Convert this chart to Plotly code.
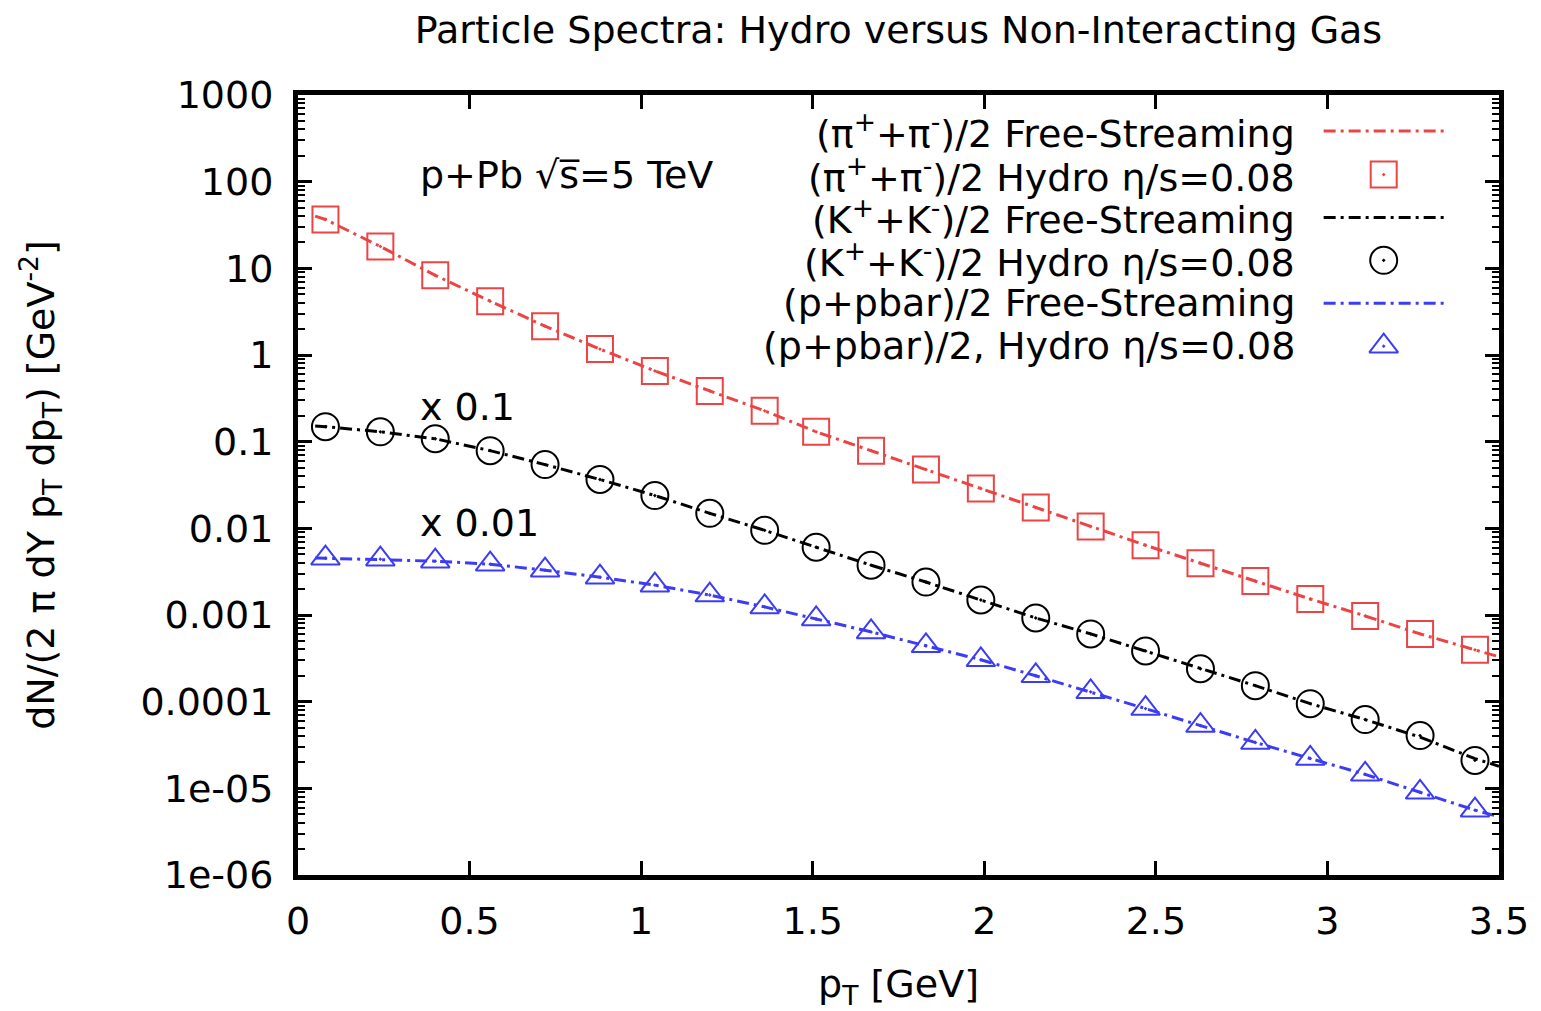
import plotly.graph_objects as go

# ---------------- data ----------------
pt = [0.08, 0.24, 0.40, 0.56, 0.72, 0.88, 1.04, 1.20, 1.36, 1.51, 1.67,
      1.83, 1.99, 2.15, 2.31, 2.47, 2.63, 2.79, 2.95, 3.11, 3.27, 3.43]

pion_hydro = [36.6, 17.9, 8.3, 4.18, 2.15, 1.17, 0.655, 0.385, 0.227, 0.130, 0.0788,
              0.0477, 0.0288, 0.0174, 0.0105, 0.00638, 0.00396, 0.00246, 0.00153,
              0.000975, 0.000605, 0.000396]
kaon_hydro = [0.149, 0.130, 0.108, 0.0788, 0.0544, 0.0366, 0.0239, 0.0149, 0.00948,
              0.00605, 0.00376, 0.00240, 0.00149, 0.000924, 0.000605, 0.000385,
              0.000240, 0.000153, 9.48e-5, 6.21e-5, 4.06e-5, 2.10e-5]
proton_hydro = [0.00452, 0.00441, 0.00418, 0.00386, 0.00329, 0.00273, 0.00221, 0.00170,
                0.00124, 0.000900, 0.000638, 0.000441, 0.000304, 0.000199, 0.000130,
                8.32e-5, 5.30e-5, 3.38e-5, 2.21e-5, 1.45e-5, 9.0e-6, 5.6e-6]

pt_fs = [0.05, 0.08, 0.24, 0.40, 0.56, 0.72, 0.88, 1.04, 1.20, 1.36, 1.51, 1.67,
         1.83, 1.99, 2.15, 2.31, 2.47, 2.63, 2.79, 2.95, 3.11, 3.27, 3.43, 3.50]
pion_fs = [40.0, 36.6, 17.9, 8.3, 4.18, 2.15, 1.17, 0.655, 0.385, 0.227, 0.130, 0.0788,
           0.0477, 0.0288, 0.0174, 0.0105, 0.00638, 0.00396, 0.00246, 0.00153,
           0.000975, 0.000605, 0.000396, 0.00033]
kaon_fs = [0.152, 0.149, 0.130, 0.108, 0.0788, 0.0544, 0.0366, 0.0239, 0.0149, 0.00948,
           0.00605, 0.00376, 0.00240, 0.00149, 0.000924, 0.000605, 0.000385,
           0.000240, 0.000153, 9.48e-5, 6.21e-5, 3.9e-5, 2.2e-5, 1.8e-5]
proton_fs = [0.00455, 0.00452, 0.00441, 0.00418, 0.00386, 0.00329, 0.00273, 0.00221, 0.00170,
             0.00124, 0.000900, 0.000638, 0.000441, 0.000304, 0.000199, 0.000130,
             8.32e-5, 5.30e-5, 3.38e-5, 2.21e-5, 1.45e-5, 9.0e-6, 5.6e-6, 4.7e-6]

y_tickvals = [1000, 100, 10, 1, 0.1, 0.01, 0.001, 0.0001, 1e-5, 1e-6]
y_ticktext = ["1000", "100", "10", "1", "0.1", "0.01", "0.001", "0.0001", "1e-05", "1e-06"]
x_tickvals = [0, 0.5, 1, 1.5, 2, 2.5, 3, 3.5]
x_ticktext = ["0", "0.5", "1", "1.5", "2", "2.5", "3", "3.5"]

legend_labels = [
    "(π<sup>+</sup>+π<sup>-</sup>)/2 Free-Streaming",
    "(π<sup>+</sup>+π<sup>-</sup>)/2 Hydro η/s=0.08",
    "(K<sup>+</sup>+K<sup>-</sup>)/2 Free-Streaming",
    "(K<sup>+</sup>+K<sup>-</sup>)/2 Hydro η/s=0.08",
    "(p+pbar)/2 Free-Streaming",
    "(p+pbar)/2, Hydro η/s=0.08",
]

RED = "#ec4444"
BLACK = "#000000"
BLUE = "#3c3cf5"
FONT = "DejaVu Sans, Liberation Sans, sans-serif"
FS = 38
DASH = "12px,5px,3px,5px"

fig = go.Figure()

series = [
    (pion_fs, pion_hydro, RED, "square-open-dot", 26),
    (kaon_fs, kaon_hydro, BLACK, "circle-open-dot", 27),
    (proton_fs, proton_hydro, BLUE, "triangle-up-open-dot", 25),
]
for fs_vals, hy_vals, col, sym, msz in series:
    fig.add_trace(go.Scatter(x=pt_fs, y=fs_vals, mode="lines",
                             line=dict(color=col, width=3, dash=DASH),
                             showlegend=False))
    fig.add_trace(go.Scatter(x=pt, y=hy_vals, mode="markers",
                             marker=dict(symbol=sym, size=msz, color=col,
                                         line=dict(color=col, width=2)),
                             showlegend=False))

# manual key (text left of sample, gnuplot style) on an overlay axis in [0,1]
row_y = [0.954, 0.898, 0.843, 0.788, 0.733, 0.678]
key_items = [("line", RED, None, 0), ("marker", RED, "square-open-dot", 26),
             ("line", BLACK, None, 0), ("marker", BLACK, "circle-open-dot", 27),
             ("line", BLUE, None, 0), ("marker", BLUE, "triangle-up-open-dot", 25)]
for (kind, col, sym, msz), yy in zip(key_items, row_y):
    if kind == "line":
        fig.add_trace(go.Scatter(x=[0.854, 0.954], y=[yy, yy], mode="lines",
                                 line=dict(color=col, width=3, dash=DASH),
                                 xaxis="x2", yaxis="y2", showlegend=False))
    else:
        fig.add_trace(go.Scatter(x=[0.904], y=[yy], mode="markers",
                                 marker=dict(symbol=sym, size=msz, color=col,
                                             line=dict(color=col, width=2)),
                                 xaxis="x2", yaxis="y2", showlegend=False))

annotations = []
for lab, yy in zip(legend_labels, row_y):
    annotations.append(dict(text=lab, x=0.832, y=yy, xref="paper", yref="paper",
                            xanchor="right", yanchor="middle", showarrow=False,
                            font=dict(family=FONT, size=FS, color="black")))
annotations += [
    dict(text="p+Pb √s\u0305=5 TeV", x=0.0998, y=0.898, xref="paper", yref="paper",
         xanchor="left", yanchor="middle", showarrow=False,
         font=dict(family=FONT, size=FS, color="black")),
    dict(text="x 0.1", x=0.0998, y=0.600, xref="paper", yref="paper",
         xanchor="left", yanchor="middle", showarrow=False,
         font=dict(family=FONT, size=FS, color="black")),
    dict(text="x 0.01", x=0.0998, y=0.451, xref="paper", yref="paper",
         xanchor="left", yanchor="middle", showarrow=False,
         font=dict(family=FONT, size=FS, color="black")),
]

# the page body adds an 8px offset: size the figure so the plot box lands where intended
W, H = 1533, 1003
fig.update_layout(
    width=W, height=H,
    margin=dict(l=290, r=41, t=87, b=133),
    paper_bgcolor="white", plot_bgcolor="white",
    font=dict(family=FONT, size=FS, color="black"),
    title=dict(text="Particle Spectra: Hydro versus Non-Interacting Gas",
               xref="paper", x=0.5, xanchor="center", y=1 - 22 / H, yanchor="middle",
               font=dict(family=FONT, size=FS, color="black")),
    xaxis=dict(range=[0, 3.5], tickvals=x_tickvals, ticktext=x_ticktext,
               ticks="inside", ticklen=14, tickwidth=3, tickcolor="black",
               showline=True, linewidth=5, linecolor="black", mirror="ticks",
               showgrid=False, zeroline=False, ticklabelstandoff=8,
               title=dict(text="p<sub>T</sub> [GeV]", standoff=30,
                          font=dict(family=FONT, size=FS))),
    yaxis=dict(type="log", range=[-6, 3], tickvals=y_tickvals, ticktext=y_ticktext,
               ticks="inside", ticklen=14, tickwidth=3, tickcolor="black",
               showline=True, linewidth=5, linecolor="black", mirror="ticks",
               showgrid=False, zeroline=False, ticklabelstandoff=12,
               minor=dict(ticks="inside", ticklen=7, tickwidth=2, tickcolor="black",
                          dtick="D1", showgrid=False),
               title=dict(text="dN/(2 π dY p<sub>T</sub> dp<sub>T</sub>) [GeV<sup>-2</sup>]",
                          standoff=76, font=dict(family=FONT, size=FS))),
    xaxis2=dict(range=[0, 1], overlaying="x", visible=False, fixedrange=True),
    yaxis2=dict(range=[0, 1], overlaying="y", visible=False, fixedrange=True),
    annotations=annotations,
    showlegend=False,
)

fig.write_html("out.html")
